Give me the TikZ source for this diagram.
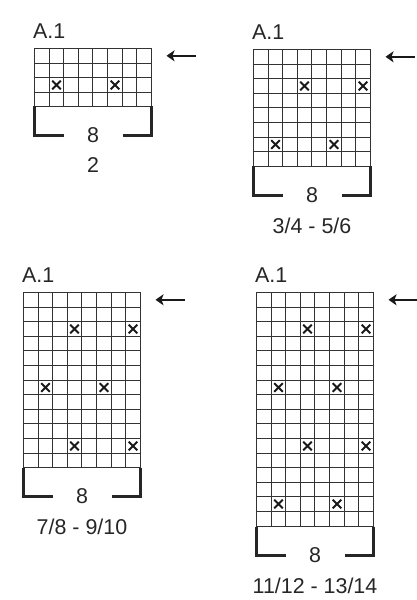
\documentclass[tikz,border=0pt]{standalone}
\usepackage{fontspec}
\setmainfont{Liberation Sans}
\usetikzlibrary{arrows.meta}
\tikzset{
  gridline/.style={line width=1.3bp, draw=black!80, line cap=rect},
  bracket/.style={line width=2.8bp, draw=black!85},
  xmark/.style={line width=1.8bp, draw=black!90},
  lbl/.style={font=\fontsize{21.5}{25}\selectfont, inner sep=0pt, text=black!85},
  rowarrow/.style={line width=1.9bp, draw=black!90, -{Stealth[length=8bp,width=11bp,inset=2bp]}},
}
\newcommand\knitchart[6]{% #1 name, #2 x0, #3 y0, #4 rows, #5 size label, #6 marks
  \pgfmathsetmacro\chL{round(#2)+0.5}
  \pgfmathsetmacro\chR{round(#2+8*14.6)+0.5}
  \pgfmathsetmacro\chT{round(#3)+0.5}
  \pgfmathsetmacro\chB{round(#3+#4*14.6)+0.5}
  \pgfmathsetmacro\chM{(\chL+\chR)/2}
  \foreach \i in {0,...,8} {
    \pgfmathsetmacro\xx{round(#2+\i*14.6)+0.5}
    \draw[gridline] (\xx,\chT) -- (\xx,\chB);
  }
  \foreach \j in {0,...,#4} {
    \pgfmathsetmacro\yy{round(#3+\j*14.6)+0.5}
    \draw[gridline] (\chL,\yy) -- (\chR,\yy);
  }
  \foreach \c/\r in {#6} {
    \pgfmathsetmacro\cx{(round(#2+\c*14.6)+round(#2+(\c+1)*14.6))/2+0.5}
    \pgfmathsetmacro\cy{(round(#3+\r*14.6)+round(#3+(\r+1)*14.6))/2+0.5}
    \draw[xmark] (\cx-4.3,\cy-4.3) -- (\cx+4.3,\cy+4.3)
                 (\cx+4.3,\cy-4.3) -- (\cx-4.3,\cy+4.3);
  }
  \node[lbl, anchor=west] (#1title) at (\chL-1.5,\chT-17) {A.1};
  \coordinate (#1bl) at (\chL,\chB);
  \coordinate (#1br) at (\chR,\chB);
  \coordinate (#1l) at (\chL,\chB+29);
  \coordinate (#1r) at (\chR,\chB+29);
  \draw[bracket] (#1bl) -- (#1l) -- ++(29,0);
  \draw[bracket] (#1br) -- (#1r) -- ++(-29,0);
  \node[lbl] (#1count) at (\chM,\chB+29) {8};
  \node[lbl] (#1size) at (\chM,\chB+59) {#5};
  \coordinate (#1as) at (\chR+44,\chT+7.3);
  \coordinate (#1ae) at (\chR+15,\chT+7.3);
  \draw[rowarrow] (#1as) -- (#1ae);
}
\begin{document}
\begin{tikzpicture}[x=1bp,y=-1bp]
\useasboundingbox (0,0) rectangle (416,600);
\knitchart{a}{34}{48}{4}{2}{1/2,5/2}
\knitchart{b}{253}{49}{8}{3/4 - 5/6}{3/2,7/2,1/6,5/6}
\knitchart{c}{23}{292}{12}{7/8 - 9/10}{3/2,7/2,1/6,5/6,3/10,7/10}
\knitchart{d}{256}{292}{16}{11/12 - 13/14}{3/2,7/2,1/6,5/6,3/10,7/10,1/14,5/14}
\end{tikzpicture}
\end{document}
